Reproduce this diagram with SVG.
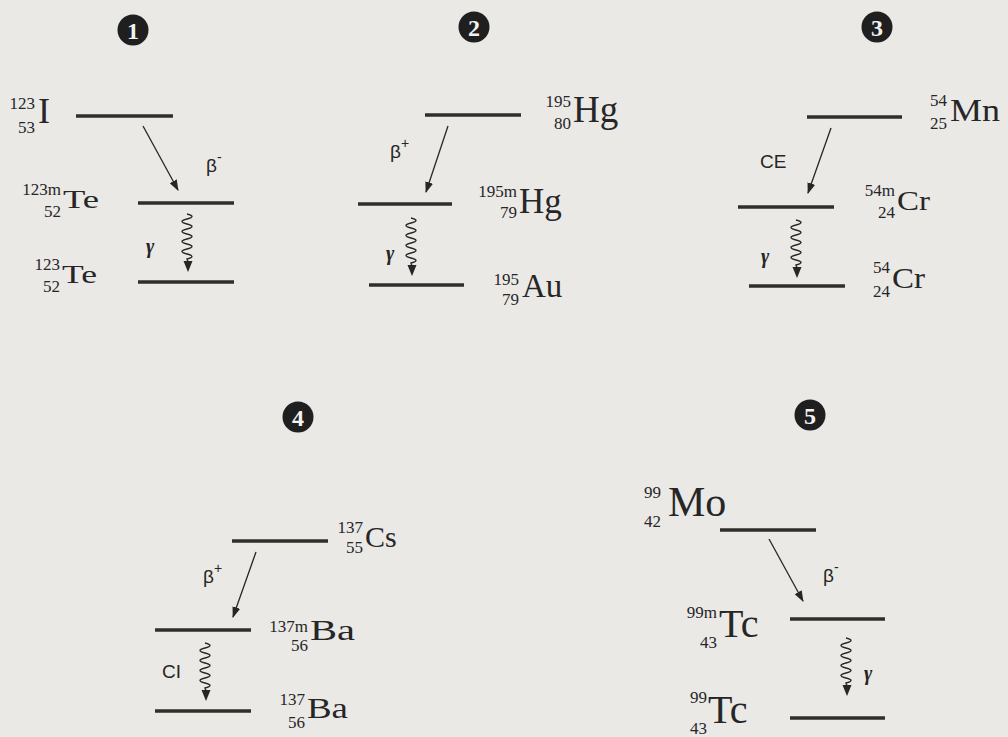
<svg xmlns="http://www.w3.org/2000/svg" width="1008" height="737" viewBox="0 0 1008 737">
<style>
.bg{fill:#eae9e6}
.lvl{stroke:#2e2e2e;stroke-width:3.5;fill:none}
.sym{font-family:"Liberation Serif","Times New Roman",serif;fill:#262626}
.idx{font-family:"Liberation Serif","Times New Roman",serif;fill:#262626;font-size:17px;text-anchor:end}
.lab{font-family:"Liberation Sans",Arial,sans-serif;fill:#262626;font-size:19px}
.gam{font-family:"Liberation Serif","Times New Roman",serif;font-style:italic;font-weight:bold;fill:#262626;font-size:20px}
.num circle{fill:#1f1f1f}
.num text{font-family:"Liberation Serif","Times New Roman",serif;font-weight:bold;font-size:24px;fill:#f2f2f2;text-anchor:middle}
.arr{stroke:#262626;stroke-width:1.3;fill:none;marker-end:url(#ah)}
.wv path{stroke:#262626;stroke-width:1.4;fill:none}
.wv polygon{fill:#262626}
</style>
<defs>
<marker id="ah" markerWidth="11" markerHeight="8" refX="10" refY="4" orient="auto" markerUnits="userSpaceOnUse">
<path d="M0,0 L11,4 L0,8 z" fill="#262626"/>
</marker>
<g id="wavy" class="wv">
<path d="M-1,0 q10,2.5 0,5 q-10,2.5 0,5 q10,2.5 0,5 q-10,2.5 0,5 q10,2.5 0,5 q-10,2.5 0,5 q10,2.5 0,5 q-10,2.5 0,5 q10,2.5 0,5 l1,3"/>
<polygon points="-4.5,47 4.5,47 0,58"/>
</g>
</defs>
<rect class="bg" x="0" y="0" width="1008" height="737"/>

<g id="badges">
<g id="badge1" class="num"><circle cx="133" cy="30" r="15.5"/><text x="133" y="38.5">1</text></g>
<g id="badge2" class="num"><circle cx="474" cy="27" r="15.5"/><text x="474" y="35.5">2</text></g>
<g id="badge3" class="num"><circle cx="877" cy="27" r="15.5"/><text x="877" y="35.5">3</text></g>
<g id="badge4" class="num"><circle cx="298" cy="417" r="15.5"/><text x="298" y="425.5">4</text></g>
<g id="badge5" class="num"><circle cx="810" cy="415" r="15.5"/><text x="810" y="423.5">5</text></g>
</g>

<!-- Diagram 1 -->
<g id="I123">
<line class="lvl" x1="76" y1="116" x2="173" y2="116"/>
<text class="idx" x="35" y="109">123</text><text class="idx" x="35" y="133">53</text>
<text class="sym" x="38" y="123" font-size="36">I</text>
</g>
<g id="Te123m">
<line class="lvl" x1="138" y1="203" x2="234" y2="203"/>
<text class="idx" x="61" y="195">123m</text><text class="idx" x="61" y="217">52</text>
<text class="sym" x="63" y="208" font-size="26" textLength="36" lengthAdjust="spacingAndGlyphs">Te</text>
</g>
<g id="Te123">
<line class="lvl" x1="138" y1="282" x2="234" y2="282"/>
<text class="idx" x="60" y="270">123</text><text class="idx" x="60" y="292">52</text>
<text class="sym" x="62" y="283" font-size="26" textLength="35" lengthAdjust="spacingAndGlyphs">Te</text>
</g>

<!-- Diagram 2 -->
<g id="Hg195">
<line class="lvl" x1="425" y1="115" x2="521" y2="115"/>
<text class="idx" x="571" y="107">195</text><text class="idx" x="571" y="129">80</text>
<text class="sym" x="573" y="122" font-size="37">Hg</text>
</g>
<g id="Hg195m">
<line class="lvl" x1="358" y1="204" x2="452" y2="204"/>
<text class="idx" x="517" y="197">195m</text><text class="idx" x="517" y="218">79</text>
<text class="sym" x="519" y="213" font-size="35">Hg</text>
</g>
<g id="Au195">
<line class="lvl" x1="369" y1="285" x2="464" y2="285"/>
<text class="idx" x="519" y="285">195</text><text class="idx" x="519" y="305">79</text>
<text class="sym" x="522" y="297" font-size="33">Au</text>
</g>

<!-- Diagram 3 -->
<g id="Mn54">
<line class="lvl" x1="807" y1="117" x2="902" y2="117"/>
<text class="idx" x="947" y="106">54</text><text class="idx" x="947" y="129">25</text>
<text class="sym" x="950" y="121" font-size="32" textLength="50" lengthAdjust="spacingAndGlyphs">Mn</text>
</g>
<g id="Cr54m">
<line class="lvl" x1="738" y1="207" x2="834" y2="207"/>
<text class="idx" x="895" y="196">54m</text><text class="idx" x="895" y="218">24</text>
<text class="sym" x="897" y="210" font-size="27" textLength="33" lengthAdjust="spacingAndGlyphs">Cr</text>
</g>
<g id="Cr54">
<line class="lvl" x1="749" y1="286" x2="845" y2="286"/>
<text class="idx" x="890" y="273">54</text><text class="idx" x="890" y="297">24</text>
<text class="sym" x="892" y="288" font-size="30" textLength="33" lengthAdjust="spacingAndGlyphs">Cr</text>
</g>

<!-- Diagram 4 -->
<g id="Cs137">
<line class="lvl" x1="232" y1="541" x2="328" y2="541"/>
<text class="idx" x="363" y="533">137</text><text class="idx" x="363" y="553">55</text>
<text class="sym" x="365" y="547" font-size="30">Cs</text>
</g>
<g id="Ba137m">
<line class="lvl" x1="155" y1="630" x2="251" y2="630"/>
<text class="idx" x="308" y="632">137m</text><text class="idx" x="308" y="651">56</text>
<text class="sym" x="310" y="640" font-size="30" textLength="45" lengthAdjust="spacingAndGlyphs">Ba</text>
</g>
<g id="Ba137">
<line class="lvl" x1="155" y1="711" x2="251" y2="711"/>
<text class="idx" x="305" y="705">137</text><text class="idx" x="305" y="728">56</text>
<text class="sym" x="307" y="718" font-size="30" textLength="41" lengthAdjust="spacingAndGlyphs">Ba</text>
</g>

<!-- Diagram 5 -->
<g id="Mo99">
<line class="lvl" x1="720" y1="530" x2="816" y2="530"/>
<text class="idx" x="661" y="498" font-size="21">99</text><text class="idx" x="661" y="527" font-size="21">42</text>
<text class="sym" x="668" y="516" font-size="42">Mo</text>
</g>
<g id="Tc99m">
<line class="lvl" x1="790" y1="619" x2="885" y2="619"/>
<text class="idx" x="717" y="618" font-size="21">99m</text><text class="idx" x="717" y="648" font-size="21">43</text>
<text class="sym" x="719" y="637" font-size="40">Tc</text>
</g>
<g id="Tc99">
<line class="lvl" x1="790" y1="718" x2="885" y2="718"/>
<text class="idx" x="707" y="703" font-size="21">99</text><text class="idx" x="707" y="734" font-size="21">43</text>
<text class="sym" x="708" y="723" font-size="40">Tc</text>
</g>

<g id="connectors">
<line class="arr" x1="143" y1="126" x2="178" y2="190"/>
<text class="lab" x="206" y="172">β<tspan dy="-10" font-size="14">-</tspan></text>
<use href="#wavy" transform="translate(188,214)"/>
<text class="gam" x="146" y="253">γ</text>

<line class="arr" x1="448" y1="126" x2="426" y2="192"/>
<text class="lab" x="390" y="158">β<tspan dy="-10" font-size="14">+</tspan></text>
<use href="#wavy" transform="translate(412,218)"/>
<text class="gam" x="386" y="260">γ</text>

<line class="arr" x1="831" y1="128" x2="808" y2="193"/>
<text class="lab" x="760" y="168" font-size="18">CE</text>
<use href="#wavy" transform="translate(797,220)"/>
<text class="gam" x="761" y="263">γ</text>

<line class="arr" x1="256" y1="552" x2="233" y2="617"/>
<text class="lab" x="203" y="583">β<tspan dy="-10" font-size="14">+</tspan></text>
<use href="#wavy" transform="translate(206,643)"/>
<text class="lab" x="162" y="678" font-size="18">CI</text>

<line class="arr" x1="769" y1="539" x2="803" y2="601"/>
<text class="lab" x="823" y="582">β<tspan dy="-10" font-size="14">-</tspan></text>
<use href="#wavy" transform="translate(847,638)"/>
<text class="gam" x="864" y="680">γ</text>
</g>
</svg>
